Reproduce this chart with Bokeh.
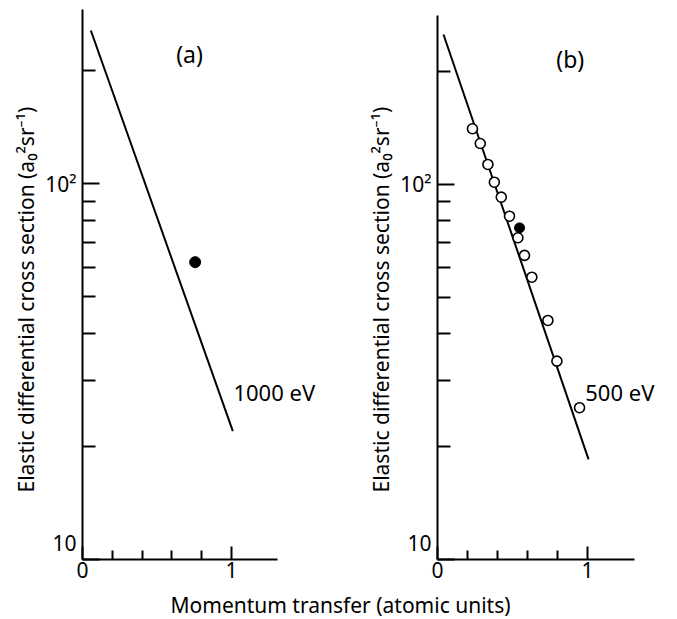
from bokeh.plotting import figure
from bokeh.models import Range1d, FixedTicker, Label, Title
from bokeh.layouts import row, column
from bokeh.embed import file_html
from bokeh.resources import INLINE

FONT = "Noto Sans"

# ---------------- data ----------------
# panel (a): 1000 eV
line_a_q = [0.056, 1.009]
line_a_sigma = [256.1, 21.96]
filled_a_q = [0.756]
filled_a_sigma = [61.9]

# panel (b): 500 eV
line_b_q = [0.040, 1.007]
line_b_sigma = [251.2, 18.5]
open_b_q = [0.233, 0.285, 0.336, 0.379, 0.425, 0.480, 0.536, 0.580, 0.629, 0.736, 0.796, 0.947]
open_b_sigma = [140.8, 128.6, 113.1, 101.4, 92.5, 82.3, 72.1, 64.7, 56.6, 43.4, 33.8, 25.4]
filled_b_q = [0.547]
filled_b_sigma = [76.6]

x_major = [0, 1]
x_minor = [0.2, 0.4, 0.6, 0.8]
y_major = [10, 100]
y_minor = [20, 30, 40, 50, 60, 70, 80, 90, 200]
y_labels = {10: "10\n", 100: "10\u00b2"}

y_title = "Elastic differential cross section (a\u2080\u00b2sr\u207b\u00b9)"
x_title = "Momentum transfer (atomic units)"


def make_panel(width, height, left, top, right, bottom, x_end, y_end, y_top):
    p = figure(width=width, height=height, y_axis_type="log",
               x_range=Range1d(0, x_end), y_range=Range1d(10, y_end),
               output_backend="svg", toolbar_location=None,
               min_border_left=left, min_border_top=top,
               min_border_right=right, min_border_bottom=bottom)
    p.grid.visible = False
    p.outline_line_color = None
    p.background_fill_color = "white"
    p.border_fill_color = "white"

    xa = p.xaxis[0]
    xa.ticker = FixedTicker(ticks=x_major, minor_ticks=x_minor)
    xa.bounds = (0, 1.31)
    xa.axis_line_width = 2
    xa.axis_line_color = "black"
    xa.major_tick_in = 13
    xa.major_tick_out = 0
    xa.minor_tick_in = 9
    xa.minor_tick_out = 0
    xa.major_tick_line_width = 2
    xa.minor_tick_line_width = 2
    xa.major_tick_line_color = "black"
    xa.minor_tick_line_color = "black"
    xa.major_label_text_font = FONT
    xa.major_label_text_font_size = "21px"
    xa.major_label_text_color = "black"
    xa.major_label_standoff = 2

    ya = p.yaxis[0]
    ya.ticker = FixedTicker(ticks=y_major, minor_ticks=y_minor)
    ya.major_label_overrides = y_labels
    ya.bounds = (10, y_top)
    ya.axis_line_width = 2
    ya.axis_line_color = "black"
    ya.major_tick_in = 17
    ya.major_tick_out = 0
    ya.minor_tick_in = 13
    ya.minor_tick_out = 0
    ya.major_tick_line_width = 2
    ya.minor_tick_line_width = 2
    ya.major_tick_line_color = "black"
    ya.minor_tick_line_color = "black"
    ya.major_label_text_font = FONT
    ya.major_label_text_font_size = "21px"
    ya.major_label_text_color = "black"
    ya.major_label_standoff = 6

    p.add_layout(Title(text=y_title, align="left", offset=67, standoff=6,
                       text_font=FONT, text_font_size="21px", text_font_style="normal",
                       text_color="black"), "left")
    return p


# ---------------- panel (a) ----------------
p1 = make_panel(348, 590, 82, 9, 25, 31, 241 / 149, 291.3, 291.3)
p1.line(line_a_q, line_a_sigma, line_color="black", line_width=2)
p1.scatter(filled_a_q, filled_a_sigma, marker="circle", size=11,
           fill_color="black", line_color="black")
p1.add_layout(Label(x=0.718, y=222.0, text="(a)", text_align="center", text_baseline="middle",
                    text_font=FONT, text_font_size="23px", text_color="black"))
p1.add_layout(Label(x=1.013, y=27.9, text="1000 eV", text_align="left", text_baseline="middle",
                    text_font=FONT, text_font_size="22px", text_color="black"))

# ---------------- panel (b) ----------------
p2 = make_panel(329, 590, 89, 9, 4, 31, 236 / 150, 292.8, 282.3)
p2.line(line_b_q, line_b_sigma, line_color="black", line_width=2)
p2.scatter(open_b_q, open_b_sigma, marker="circle", size=10,
           fill_color="white", line_color="black", line_width=1.6)
p2.scatter(filled_b_q, filled_b_sigma, marker="circle", size=10,
           fill_color="black", line_color="black")
p2.add_layout(Label(x=0.885, y=216.3, text="(b)", text_align="center", text_baseline="middle",
                    text_font=FONT, text_font_size="23px", text_color="black"))
p2.add_layout(Label(x=0.985, y=28.05, text="500 eV", text_align="left", text_baseline="middle",
                    text_font=FONT, text_font_size="22px", text_color="black"))

# ---------------- shared x title ----------------
p3 = figure(width=677, height=29, x_range=Range1d(0, 677), y_range=Range1d(0, 29),
            output_backend="svg", toolbar_location=None,
            min_border_left=0, min_border_right=0, min_border_top=0, min_border_bottom=0)
p3.axis.visible = False
p3.grid.visible = False
p3.outline_line_color = None
p3.add_layout(Label(x=340, y=14.5, text=x_title, text_align="center", text_baseline="middle",
                    text_font=FONT, text_font_size="21px", text_color="black"))

layout = column(row(p1, p2), p3)
open("out.html", "w").write(file_html(layout, INLINE))
